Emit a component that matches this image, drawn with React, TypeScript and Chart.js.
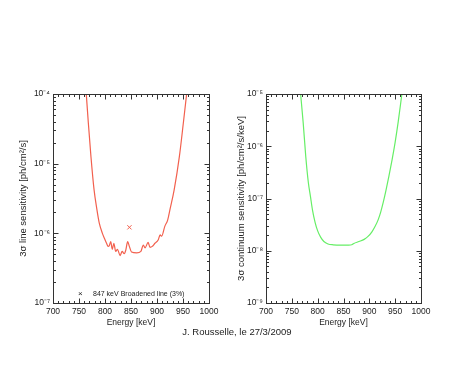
import React, { useEffect, useRef } from 'react';
import { Chart, registerables } from 'chart.js';

Chart.register(...registerables);

// ---- Data ----
const lineEnergy = [764, 768, 773, 779, 784, 789, 795, 800, 803, 806, 808, 811, 814, 817, 820.6, 824, 829, 833, 837, 840, 843.6, 846.8, 851, 861, 869, 873.7, 877, 883, 886.5, 891, 896, 902.5, 906, 909, 915, 920.5, 925, 933, 943, 950.6, 957];
const lineSensitivity = [1.0e-4, 3.8e-5, 1.26e-5, 4.2e-6, 2.3e-6, 1.4e-6, 1.0e-6, 8.1e-7, 7.2e-7, 6.5e-7, 6.6e-7, 7.6e-7, 5.9e-7, 7.2e-7, 5.5e-7, 5.9e-7, 4.8e-7, 5.5e-7, 5.1e-7, 5.75e-7, 7.6e-7, 6.5e-7, 5.4e-7, 5.25e-7, 5.5e-7, 6.8e-7, 6.2e-7, 7.4e-7, 6.3e-7, 6.5e-7, 7.2e-7, 8.1e-7, 9.5e-7, 9.1e-7, 1.26e-6, 1.55e-6, 2.2e-6, 4.2e-6, 1.26e-5, 3.8e-5, 1.0e-4];

const markerEnergy = [847];
const markerSensitivity = [1.22e-6];

const contEnergy = [767, 772, 777, 782, 786, 790, 795, 800, 806, 812, 820, 830, 845, 860, 866, 870, 880, 890, 898, 905, 911, 917, 922, 927, 932, 938, 944, 950, 956, 963];
const contSensitivity = [1.0e-5, 2.8e-6, 6.3e-7, 2.0e-7, 1.1e-7, 6.0e-8, 3.5e-8, 2.4e-8, 1.8e-8, 1.5e-8, 1.35e-8, 1.3e-8, 1.28e-8, 1.28e-8, 1.3e-8, 1.38e-8, 1.5e-8, 1.65e-8, 1.9e-8, 2.3e-8, 2.9e-8, 3.9e-8, 5.5e-8, 8.5e-8, 1.4e-7, 2.7e-7, 5.5e-7, 1.2e-6, 3.0e-6, 1.0e-5];

const energyTicks = [700, 750, 800, 850, 900, 950, 1000];
const leftDecades = [1e-7, 1e-6, 1e-5, 1e-4];
const rightDecades = [1e-9, 1e-8, 1e-7, 1e-6, 1e-5];

const leftYTitle = '3σ line sensitivity [ph/cm²/s]';
const rightYTitle = '3σ continuum sensitivity [ph/cm²/s/keV]';
const xTitle = 'Energy [keV]';
const legendText = '847 keV Broadened line (3%)';
const footerText = 'J. Rousselle, le 27/3/2009';

const TEXT = '#222';
const FAMILY = 'Liberation Sans, Arial, sans-serif';
const FONT = { family: FAMILY, size: 8.5 };
const YTITLE_FONT = { family: FAMILY, size: 9.5 };
const RED = '#f2604e';
const GREEN = '#66ee66';

const SUP: Record<string, string> = { '-': '⁻', '0': '⁰', '1': '¹', '2': '²', '3': '³', '4': '⁴', '5': '⁵', '6': '⁶', '7': '⁷', '8': '⁸', '9': '⁹' };
function decadeLabel(v: number): string {
  const l = Math.log10(v);
  const e = Math.round(l);
  if (Math.abs(l - e) > 1e-6) return '';
  return '10' + String(e).split('').map((c) => SUP[c] || c).join('');
}

const framePlugin = {
  id: 'frame',
  afterDatasetsDraw(chart: any) {
    const { ctx, chartArea: a, scales } = chart;
    const xs = scales.x;
    const ys = scales.y;
    ctx.save();
    ctx.strokeStyle = '#333';
    ctx.lineWidth = 1;
    const L = Math.round(a.left) + 0.5, R = Math.round(a.right) + 0.5;
    const T = Math.round(a.top) + 0.5, B = Math.round(a.bottom) + 0.5;
    ctx.strokeRect(L, T, R - L, B - T);
    ctx.beginPath();
    for (let v = xs.min; v <= xs.max + 1e-9; v += 10) {
      const px = Math.round(xs.getPixelForValue(v)) + 0.5;
      const len = Math.abs(v % 50) < 1e-9 ? 5 : 2.5;
      ctx.moveTo(px, B); ctx.lineTo(px, B - len);
      ctx.moveTo(px, T); ctx.lineTo(px, T + len);
    }
    const e0 = Math.round(Math.log10(ys.min));
    const e1 = Math.round(Math.log10(ys.max));
    for (let e = e0; e <= e1; e++) {
      for (let m = 1; m <= 9; m++) {
        const v = m * Math.pow(10, e);
        if (v > ys.max * 1.0001) break;
        const py = Math.round(ys.getPixelForValue(v)) + 0.5;
        const len = m === 1 ? 5 : 2.5;
        ctx.moveTo(L, py); ctx.lineTo(L + len, py);
        ctx.moveTo(R, py); ctx.lineTo(R - len, py);
      }
    }
    ctx.stroke();
    ctx.restore();
  },
};

const legendPlugin = {
  id: 'innerLegend',
  afterDatasetsDraw(chart: any) {
    const { ctx, chartArea: a } = chart;
    ctx.save();
    ctx.fillStyle = TEXT;
    ctx.textBaseline = 'middle';
    ctx.font = '8px ' + FAMILY;
    ctx.fillText('×', a.left + 25, a.bottom - 9);
    ctx.font = '7px ' + FAMILY;
    ctx.fillText(legendText, a.left + 40, a.bottom - 9);
    ctx.restore();
  },
};

function makeOptions(yMin: number, yMax: number, decades: number[], yTitle: string, yWidth: number, padRight: number, titlePad: number) {
  return {
    animation: false as const,
    responsive: false,
    events: [] as any[],
    layout: { padding: { top: 94, right: padRight, left: 0, bottom: 0 } },
    plugins: { legend: { display: false }, tooltip: { enabled: false } },
    scales: {
      x: {
        type: 'linear' as const,
        min: 700,
        max: 1000,
        afterBuildTicks: (s: any) => { s.ticks = energyTicks.map((v) => ({ value: v })); },
        afterFit: (s: any) => { s.height = 63; },
        grid: { display: false, drawTicks: false },
        border: { display: false },
        ticks: { padding: 4, autoSkip: false, maxRotation: 0, font: FONT, color: TEXT, callback: (v: any) => String(v) },
        title: { display: true, text: xTitle, font: FONT, color: TEXT, padding: { top: 0, bottom: 38 } },
      },
      y: {
        type: 'logarithmic' as const,
        min: yMin,
        max: yMax,
        afterBuildTicks: (s: any) => { s.ticks = decades.map((v) => ({ value: v })); },
        afterFit: (s: any) => { s.width = yWidth; },
        grid: { display: false, drawTicks: false },
        border: { display: false },
        ticks: { padding: 3, autoSkip: false, font: FONT, color: TEXT, callback: (v: any) => decadeLabel(Number(v)) },
        title: { display: true, text: yTitle, font: YTITLE_FONT, color: TEXT, padding: { top: titlePad, bottom: 0 } },
      },
    },
  };
}

export default function App() {
  const leftRef = useRef<HTMLCanvasElement | null>(null);
  const rightRef = useRef<HTMLCanvasElement | null>(null);

  useEffect(() => {
    const left = new Chart(leftRef.current as HTMLCanvasElement, {
      type: 'line',
      data: {
        datasets: [
          {
            data: lineEnergy.map((e, i) => ({ x: e, y: lineSensitivity[i] })),
            borderColor: RED,
            borderWidth: 1.2,
            pointRadius: 0,
            cubicInterpolationMode: 'monotone',
            fill: false,
          } as any,
          {
            type: 'scatter',
            data: markerEnergy.map((e, i) => ({ x: e, y: markerSensitivity[i] })),
            pointStyle: 'crossRot',
            pointRadius: 3,
            borderColor: RED,
            backgroundColor: RED,
            borderWidth: 1,
            showLine: false,
          } as any,
        ],
      },
      options: makeOptions(1e-7, 1e-4, leftDecades, leftYTitle, 53, 28, 18) as any,
      plugins: [framePlugin, legendPlugin],
    });

    const right = new Chart(rightRef.current as HTMLCanvasElement, {
      type: 'line',
      data: {
        datasets: [
          {
            data: contEnergy.map((e, i) => ({ x: e, y: contSensitivity[i] })),
            borderColor: GREEN,
            borderWidth: 1.2,
            pointRadius: 0,
            cubicInterpolationMode: 'monotone',
            fill: false,
          } as any,
        ],
      },
      options: makeOptions(1e-9, 1e-5, rightDecades, rightYTitle, 36, 53, 6) as any,
      plugins: [framePlugin],
    });

    return () => {
      left.destroy();
      right.destroy();
    };
  }, []);

  return (
    <div style={{ position: 'fixed', left: 0, top: 0, width: 474, height: 366, background: '#fff', overflow: 'hidden' }}>
      <canvas ref={leftRef} width={237} height={366} style={{ position: 'absolute', left: 0, top: 0, width: 237, height: 366 }} />
      <canvas ref={rightRef} width={244} height={366} style={{ position: 'absolute', left: 230, top: 0, width: 244, height: 366 }} />
      <div
        style={{
          position: 'absolute',
          left: 0,
          top: 327,
          width: 474,
          textAlign: 'center',
          fontFamily: FAMILY,
          fontSize: '9.5px',
          lineHeight: '10px',
          color: TEXT,
        }}
      >
        {footerText}
      </div>
    </div>
  );
}
